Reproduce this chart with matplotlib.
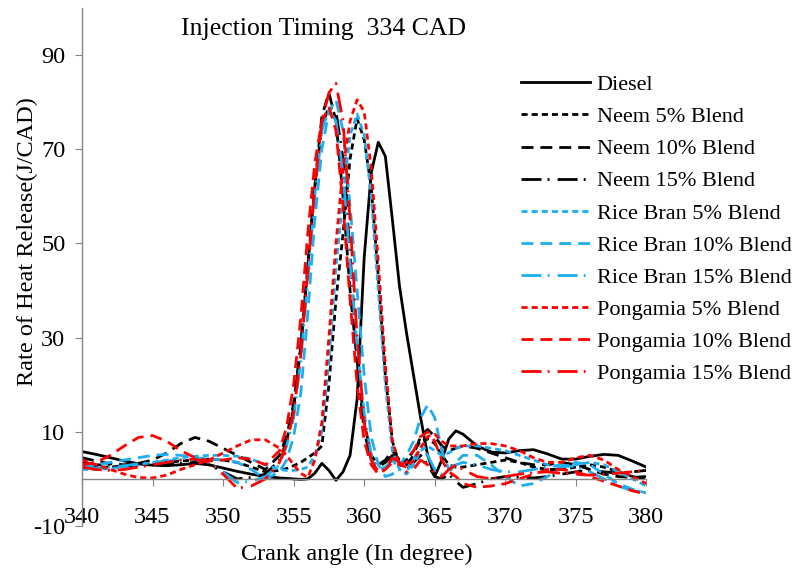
import numpy as np
import matplotlib
matplotlib.use("Agg")
import matplotlib.pyplot as plt

# ── crank angle grid (1 deg outside the peak zone, 0.5 deg inside) ────────────
crank_low = list(range(340, 355))
crank_mid = [354.5 + 0.5 * i for i in range(26)]
crank_tail = list(range(368, 381))
crank = crank_low + crank_mid + crank_tail

# ── rate of heat release (J/CAD) ──────────────────────────────────────────────
diesel = ([5.8, 5.2, 4.5, 3.8, 3.2, 2.9, 2.8, 3.0, 3.3, 3.0, 2.3, 1.6, 1.0, 0.5, 0.2]
          + [0.1, 0.0, -0.1, 0.0, 1.2, 3.3, 1.8, -0.3, 1.5, 5, 17, 47, 65, 71.5, 68.5,
             55, 41, 31, 22, 13, 5, 0.5, 4, 8.5, 10.2, 9.5]
          + [7, 5.7, 5.5, 6, 6.2, 5.3, 4.2, 4.2, 4.8, 5.2, 5, 3.8, 2.5])
neem5 = ([3, 2.5, 2.5, 2.8, 3, 3.2, 3.5, 3.8, 4, 4.2, 4, 3.5, 2.5, 1.5, 1.8]
         + [2.2, 2.8, 3.5, 4.5, 5.5, 7, 20, 38, 52, 68, 76.5, 72, 62, 43, 22,
            8, 3, 4, 6, 8, 8.5, 7.5, 5, 3, 2.5, 2.5]
         + [3, 3.5, 4, 3.5, 2.5, 2, 2, 2.5, 3, 2.5, 1.5, 0.5, 0])
neem10 = ([4.5, 3.8, 3.2, 3, 3.3, 4, 5.5, 7.5, 8.8, 8, 6.5, 5, 3.5, 2, 5]
          + [9, 16, 28, 45, 62, 77, 82, 76, 60, 40, 25, 12, 5, 3, 4,
             6, 4, 3, 5, 9, 10.5, 9, 7, 6, 6.5, 7]
          + [6.5, 5.5, 4.5, 3.5, 3, 3, 3.5, 3, 2, 1, 0.5, 0.3, 0.5])
neem15 = ([3.5, 3, 2.8, 2.7, 2.8, 3, 3.2, 3.3, 3.5, 3, 1.5, 0, 0.3, 1, 4]
          + [8, 15, 28, 45, 62, 75, 79, 78, 68, 48, 25, 10, 4, 2.5, 3.5,
             5, 3, 2, 3.5, 5, 3, 0.5, 0, 1, -0.5, -1.8]
          + [-1, 0, 0.5, 0.3, 0.2, 0.5, 1, 1.5, 1.8, 1.5, 1.2, 1.5, 1.8])
rice5 = ([2, 2, 2.2, 2.5, 3, 3.5, 4, 4.5, 4.8, 5, 5, 4.8, 4.2, 3, 2]
         + [1.8, 1.8, 2, 2.5, 5, 10, 25, 45, 60, 73, 77.5, 73, 60, 40, 20,
            6, 2, 1, 3, 6, 7, 6, 5, 5.5, 6.5, 7]
         + [7, 6.5, 6, 5, 4, 3, 2.5, 3, 3.5, 3, 1.5, 0, -1.5])
rice10 = ([2.5, 3, 3.5, 4, 4.5, 5, 5.2, 5, 4.5, 4.2, 4, 3.5, 2, 0, 1.5]
          + [4, 9, 18, 35, 55, 70, 78, 80.5, 74, 58, 40, 22, 9, 3, 0.5,
             1, 3, 5, 8, 13, 15.7, 13, 6, 2, 3.5, 5]
          + [5, 3, 0.5, -1.5, -1, 0.5, 2.5, 3.5, 3, 1, -1, -2.2, -3])
rice15 = ([2.5, 2.3, 2.5, 2.8, 3.2, 3.5, 3.8, 4, 4.2, 3.5, 1.5, -0.8, -0.5, 0.5, 3]
          + [7, 13, 25, 42, 60, 74, 78.5, 76, 65, 46, 28, 14, 5, 2, 2.5,
             4, 2, 1.5, 4, 7, 5, 2, 1, 1.5, 3, 3.5]
          + [3, 2, 1.5, 1.5, 2, 2.5, 3, 2.5, 1.5, 0, -1.5, -2.5, -2.8])
pong5 = ([4, 3, 2, 1, 0.3, 0.2, 0.8, 2, 3, 4, 5.5, 7, 8.3, 8.3, 6.5]
         + [5, 3, 1.2, 0.3, 4, 12, 30, 50, 66, 76, 80.5, 78, 66, 46, 24,
            8, 3, 2.5, 4, 6.5, 9, 9.5, 8, 7, 7, 7]
         + [7.5, 7.5, 7, 6, 4.5, 3.5, 3.5, 4.5, 5, 4, 2, 0.5, -1])
pong10 = ([3, 3.5, 5, 7, 8.8, 9.2, 8, 6, 4.5, 3.8, 4, 4.5, 4.2, 3, 6]
          + [11, 20, 34, 52, 67, 76, 79, 74, 58, 38, 20, 8, 3, 1, 2,
             3.5, 3, 3.5, 6, 9, 10, 8, 4, 1.5, 0.5, -1]
          + [-1.8, -1.5, -1, 0, 1, 2, 2, 1.5, 0.5, -0.5, -1.5, -2.5, -3.3])
pong15 = ([2.5, 2, 1.8, 2, 2.5, 3, 3.5, 4, 4.2, 3.5, 1, -2, -1.5, 0, 3.5]
          + [7.5, 14, 26, 44, 62, 76, 82, 84, 76, 55, 30, 12, 4, 1.5, 2,
             4.5, 3.5, 1.5, 2, 4, 3, 1, 0.5, 2, 3, 2]
          + [0.5, 0, 0.5, 1, 1.3, 1.5, 1.2, 1, 0.8, 1, 1.2, 1.5, 1.8])

labels = ["Diesel", "Neem 5% Blend", "Neem 10% Blend", "Neem 15% Blend",
          "Rice Bran 5% Blend", "Rice Bran 10% Blend", "Rice Bran 15% Blend",
          "Pongamia 5% Blend", "Pongamia 10% Blend", "Pongamia 15% Blend"]
series = [diesel, neem5, neem10, neem15, rice5, rice10, rice15, pong5, pong10, pong15]

BLACK, BLUE, RED = "#000000", "#1EAEEF", "#FF0000"
colors = [BLACK, BLACK, BLACK, BLACK, BLUE, BLUE, BLUE, RED, RED, RED]
SOLID = "-"
SHORT = (0, (2.2, 1.45))
LONG = (0, (4.3, 2.5))
DASHDOT = (0, (7.2, 2.2, 0.7, 2.9))
styles = [SOLID, SHORT, LONG, DASHDOT, SHORT, LONG, DASHDOT, SHORT, LONG, DASHDOT]

plt.rcParams["font.family"] = ["Liberation Serif", "DejaVu Serif"]
plt.rcParams["axes.unicode_minus"] = False
FS = 17.5
LEG_FS = 16

fig = plt.figure(figsize=(8.12, 5.69), dpi=100)
ax = fig.add_axes([0.101, 0.0756, 0.695, 0.9104])

for y, lab, c, ls in zip(series, labels, colors, styles):
    ax.plot(crank, y, color=c, linestyle=ls, lw=2.0, label=lab)

ax.set_xlim(340, 380)
ax.set_ylim(-10, 100)
ax.set_xticks(range(340, 381, 5))
ax.set_yticks([-10, 10, 30, 50, 70, 90])

for side in ("top", "right"):
    ax.spines[side].set_visible(False)
ax.spines["bottom"].set_position(("data", 0))
for side in ("left", "bottom"):
    ax.spines[side].set_color("#868686")
    ax.spines[side].set_linewidth(1.0)
ax.tick_params(axis="both", direction="out", length=5, color="#868686",
               labelsize=FS)
ax.tick_params(axis="x", pad=15)
ax.tick_params(axis="y", pad=7)

fig.text(0.399, 0.949, "Injection Timing  334 CAD", fontsize=18.5, ha="center", va="center")
fig.text(0.034, 0.575, "Rate of Heat Release(J/CAD)", fontsize=FS, rotation=90,
         ha="center", va="center")
fig.text(0.44, 0.025, "Crank angle (In degree)", fontsize=FS, ha="center", va="center")

ax.legend(loc="upper left", bbox_to_anchor=(0.6416, 0.869),
          bbox_transform=fig.transFigure, frameon=False, fontsize=LEG_FS,
          handlelength=3.1, handletextpad=0.3, labelspacing=0.52,
          borderpad=0, borderaxespad=0)

fig.savefig("out.png", dpi=100)
